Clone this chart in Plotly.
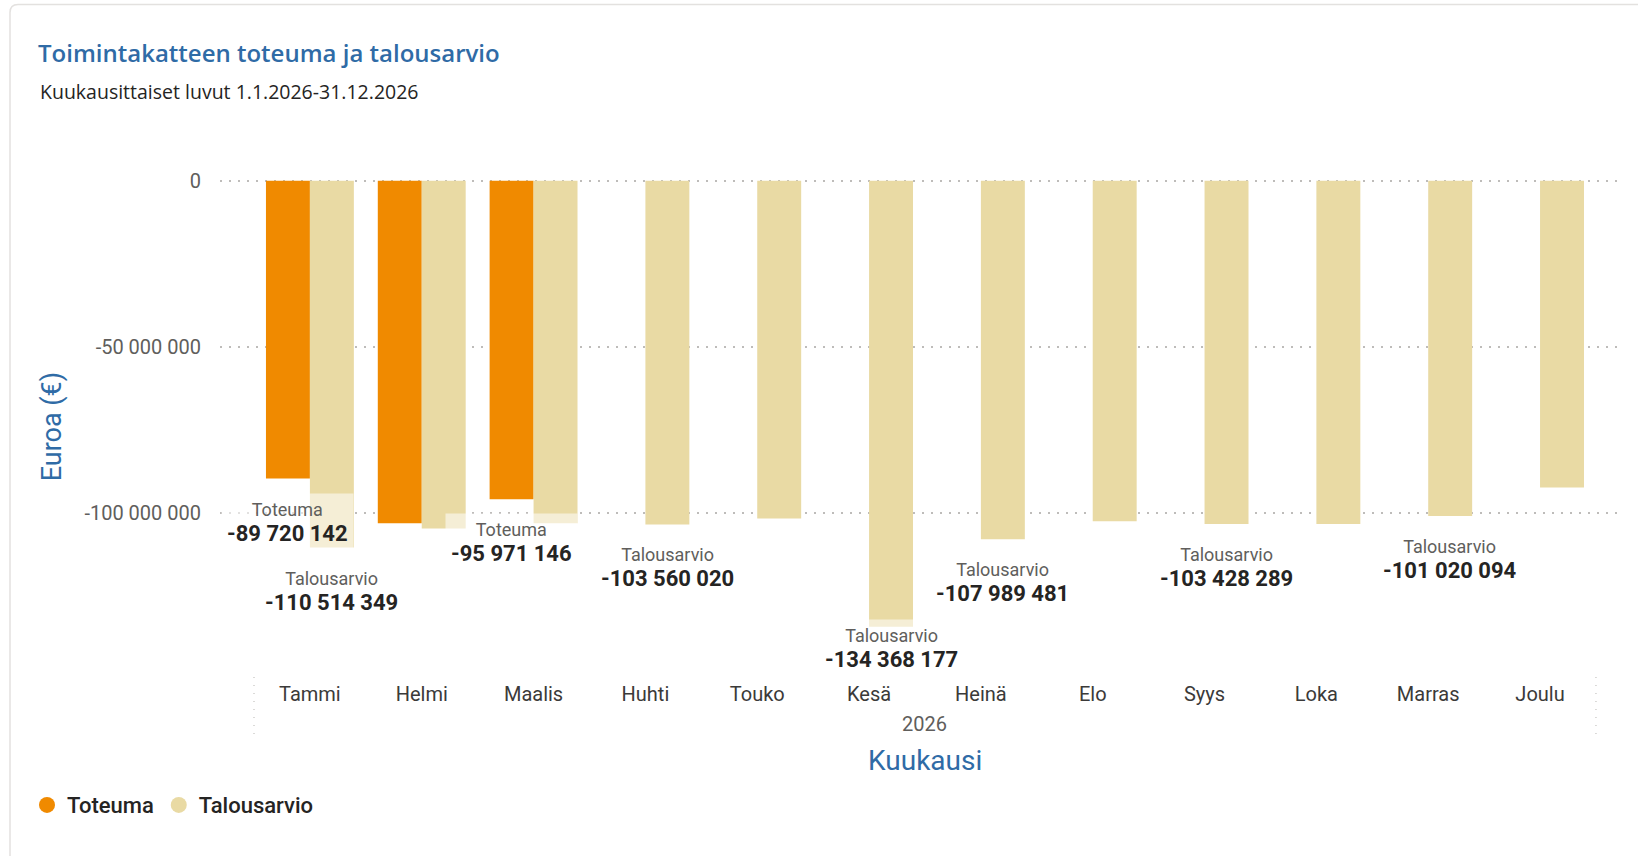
import plotly.graph_objects as go

# ---------------- data ----------------
months = ["Tammi", "Helmi", "Maalis", "Huhti", "Touko", "Kesä",
          "Heinä", "Elo", "Syys", "Loka", "Marras", "Joulu"]
toteuma = [-89720142, -103200000, -95971146, None, None, None,
           None, None, None, None, None, None]
talousarvio = [-110514349, -104800000, -103200000, -103560020, -101800000, -134368177,
               -107989481, -102600000, -103428289, -103400000, -101020094, -92400000]
# which bars carry a visible data label (as in the reference)
toteuma_label = [True, False, True, False, False, False,
                 False, False, False, False, False, False]
talousarvio_label = [True, False, False, True, False, True,
                     True, False, True, False, True, False]
ytick_vals = [0, -50000000, -100000000]
ytick_text = ["0", "-50 000 000", "-100 000 000"]
year_label = "2026"

# ---------------- style / layout constants ----------------
W, H = 1638, 856
PLOT_L, PLOT_R = 220, 1620
ZERO_PX, BOTTOM_PX = 181, 672
YMIN = -148e6
K = (BOTTOM_PX - ZERO_PX) / (-YMIN)          # px per unit
YMAX = 0.5e6
TOP_PX = ZERO_PX - YMAX * K
XMIN, XMAX = -0.804, 11.715
BARGAP = 0.214
OFFSET = (1 - BARGAP) / 4

C_TOT = "#F08A00"
C_BUD = "#E9DAA4"
BLUE = "#2F6BA6"
GREY = "#605E5C"
DARK = "#252423"
DIN = "Roboto, DejaVu Sans, sans-serif"
SEGOE = "Open Sans, Noto Sans, sans-serif"


def px_x(px):
    return (px - PLOT_L) / (PLOT_R - PLOT_L)


def px_y(py):
    return (BOTTOM_PX - py) / (BOTTOM_PX - TOP_PX)


def fmt(v):
    return f"{v:,.0f}".replace(",", " ")


x_idx = list(range(len(months)))

fig = go.Figure()
fig.add_trace(go.Bar(x=x_idx, y=toteuma, name="Toteuma", marker_color=C_TOT,
                     marker_line_width=0, showlegend=False, hoverinfo="skip"))
fig.add_trace(go.Bar(x=x_idx, y=talousarvio, name="Talousarvio", marker_color=C_BUD,
                     marker_line_width=0, showlegend=False, hoverinfo="skip"))
# legend entries with round markers (Power BI style)
fig.add_trace(go.Scatter(x=[None], y=[None], mode="markers", name="Toteuma",
                         marker=dict(symbol="circle", size=21, color=C_TOT)))
fig.add_trace(go.Scatter(x=[None], y=[None], mode="markers", name="Talousarvio",
                         marker=dict(symbol="circle", size=21, color=C_BUD)))

annotations = []
LABEL_H_PX = 74


def add_label(i, v, name, side):
    bar_px = ZERO_PX - v * K
    txt = (f"<span style='font-size:18px;color:{GREY}'>{name}</span><br>"
           f"<span style='font-size:22px;color:{DARK}'><b>{fmt(v)}</b></span>")
    if bar_px + LABEL_H_PX > BOTTOM_PX:
        y, anchor, shift = YMIN, "bottom", -6
    else:
        y, anchor, shift = v, "top", -14
    annotations.append(dict(x=i + side * OFFSET, y=y, xref="x", yref="y", text=txt,
                            showarrow=False, yanchor=anchor, yshift=shift,
                            font=dict(family=DIN, size=19, color=DARK),
                            bgcolor="rgba(255,255,255,0.55)", borderpad=5))


for i, v in enumerate(toteuma):
    if v is not None and toteuma_label[i]:
        add_label(i, v, "Toteuma", -1)
for i, v in enumerate(talousarvio):
    if v is not None and talousarvio_label[i]:
        add_label(i, v, "Talousarvio", 1)

# subtitle, year, axis titles
annotations.append(dict(x=px_x(38), y=px_y(92), xref="paper", yref="paper",
                        text="Kuukausittaiset luvut 1.1.2026-31.12.2026", showarrow=False,
                        xanchor="left", yanchor="middle",
                        font=dict(family=SEGOE, size=19.5, color=DARK)))
annotations.append(dict(x=(len(months) - 1) / 2, y=px_y(724), xref="x", yref="paper",
                        text=year_label, showarrow=False, yanchor="middle",
                        font=dict(family=DIN, size=20, color=GREY)))
annotations.append(dict(x=(len(months) - 1) / 2, y=px_y(760), xref="x", yref="paper",
                        text="Kuukausi", showarrow=False, yanchor="middle",
                        font=dict(family=DIN, size=28, color=BLUE, weight=400)))
annotations.append(dict(x=px_x(52), y=px_y((ZERO_PX + BOTTOM_PX) / 2), xref="paper",
                        yref="paper", text="Euroa (€)", showarrow=False, textangle=-90,
                        xanchor="center", yanchor="middle",
                        font=dict(family=DIN, size=27, color=BLUE, weight=400)))

shapes = []
# dotted vertical boundary lines of the category axis
for xb in (-0.5, len(months) - 0.5):
    shapes.append(dict(type="line", xref="x", yref="paper", x0=xb, x1=xb,
                       y0=px_y(677), y1=px_y(737),
                       line=dict(color="#D0CECC", width=1.5, dash="1px,7px")))

# card border with rounded top-left corner
r = 8
x0, y0 = px_x(10), px_y(5)
x_far, y_far = px_x(1700), px_y(900)
rx = r / (PLOT_R - PLOT_L)
ry = r / (BOTTOM_PX - TOP_PX)
path = (f"M {x0},{y_far} L {x0},{y0 - ry} Q {x0},{y0} {x0 + rx},{y0} L {x_far},{y0}")
shapes.append(dict(type="path", xref="paper", yref="paper", path=path,
                   line=dict(color="#E3E1DF", width=1.5), layer="below"))

fig.update_layout(
    width=W, height=H,
    margin=dict(l=PLOT_L, r=W - PLOT_R, t=TOP_PX, b=H - BOTTOM_PX, pad=0),
    paper_bgcolor="white", plot_bgcolor="white",
    barmode="group", bargap=BARGAP, bargroupgap=0,
    title=dict(text="Toimintakatteen toteuma ja talousarvio",
               x=38 / W, xanchor="left", xref="container",
               y=1 - 54 / H, yanchor="middle", yref="container",
               font=dict(family=SEGOE, size=24, color=BLUE, weight=600)),
    xaxis=dict(range=[XMIN, XMAX], tickmode="array", tickvals=x_idx, ticktext=months,
               showgrid=False, zeroline=False, showline=False, ticks="",
               ticklabelstandoff=8,
               tickfont=dict(family=DIN, size=20, color="#3B3A39")),
    yaxis=dict(range=[YMIN, YMAX], tickmode="array", tickvals=ytick_vals,
               ticktext=ytick_text, showgrid=True, gridcolor="#BEBCBA",
               griddash="1.5px,7.5px", gridwidth=1.5, zeroline=False, showline=False,
               ticks="", ticklabelstandoff=18,
               tickfont=dict(family=DIN, size=20, color=GREY)),
    legend=dict(orientation="h", x=px_x(27), xanchor="left", y=px_y(805),
                yanchor="middle", font=dict(family=DIN, size=22, color=DARK, weight=500),
                itemwidth=30, tracegroupgap=0, bgcolor="rgba(0,0,0,0)"),
    annotations=annotations,
    shapes=shapes,
)

fig.write_html("out.html", config={"displayModeBar": False},
               post_script="document.body.style.margin='0';document.body.style.overflow='hidden';")
